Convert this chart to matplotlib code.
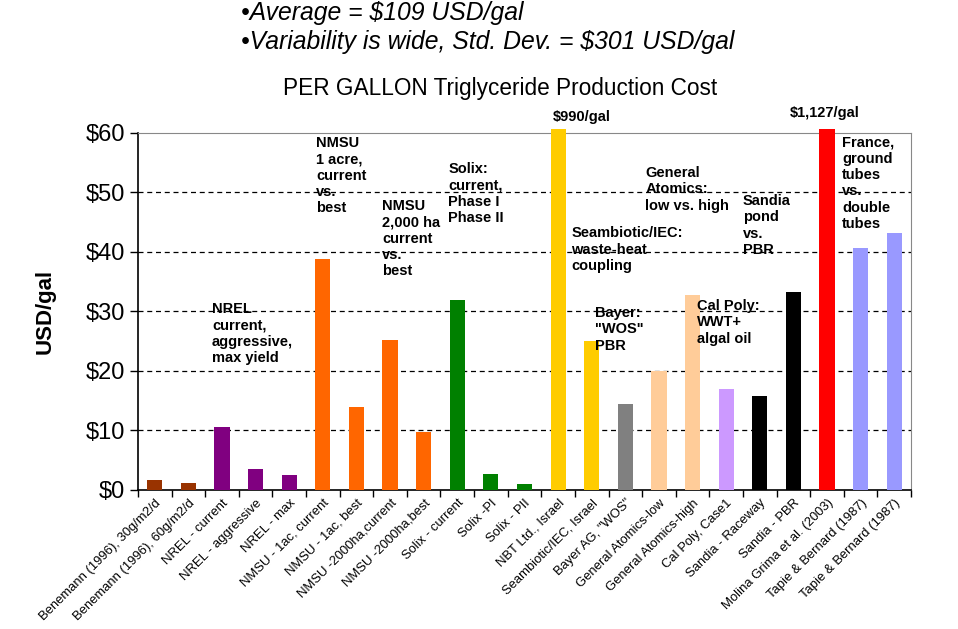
import numpy as np
import matplotlib
matplotlib.use('Agg')
import matplotlib.pyplot as plt

plt.rcParams['font.family'] = ['Liberation Sans', 'DejaVu Sans']

# categories and per gallon cost (USD/gal)
labels = ['Benemann (1996), 30g/m2/d', 'Benemann (1996), 60g/m2/d',
          'NREL - current', 'NREL - aggressive', 'NREL - max',
          'NMSU - 1ac, current', 'NMSU - 1ac, best',
          'NMSU -2000ha,current', 'NMSU -2000ha,best',
          'Solix - current', 'Solix -PI', 'Solix - PII',
          'NBT Ltd., Israel', 'Seambiotic/IEC, Israel', 'Bayer AG, "WOS"',
          'General Atomics-low', 'General Atomics-high', 'Cal Poly, Case1',
          'Sandia - Raceway', 'Sandia - PBR', 'Molina Grima et al. (2003)',
          'Tapie & Bernard (1987)', 'Tapie & Bernard (1987)']
costs = [1.7, 1.1, 10.5, 3.5, 2.5, 38.8, 14.0, 25.2, 9.75, 31.9, 2.7, 1.0,
         990, 25.0, 14.5, 20.0, 32.8, 16.9, 15.8, 33.3, 1127, 40.6, 43.1]
colors = ['#993300', '#993300', '#800080', '#800080', '#800080',
          '#FF6600', '#FF6600', '#FF6600', '#FF6600',
          '#008000', '#008000', '#008000',
          '#FFCC00', '#FFCC00', '#808080', '#FFCC99', '#FFCC99', '#CC99FF',
          '#000000', '#000000', '#FF0000', '#9999FF', '#9999FF']

# group notes: (text, x in category units, y in USD/gal)
notes = [
    ('NREL\ncurrent,\naggressive,\nmax yield', 1.70, 31.6),
    ('NMSU\n1 acre,\ncurrent\nvs.\nbest', 4.80, 59.5),
    ('NMSU\n2,000 ha\ncurrent\nvs.\nbest', 6.76, 48.9),
    ('Solix:\ncurrent,\nPhase I\nPhase II', 8.73, 55.1),
    ('$990/gal', 11.85, 63.8),
    ('Seambiotic/IEC:\nwaste-heat\ncoupling', 12.39, 44.3),
    ('General\nAtomics:\nlow vs. high', 14.59, 54.4),
    ('Bayer:\n"WOS"\nPBR', 13.10, 30.9),
    ('Cal Poly:\nWWT+\nalgal oil', 16.14, 32.1),
    ('Sandia\npond\nvs.\nPBR', 17.50, 49.7),
    ('$1,127/gal', 18.90, 64.5),
    ('France,\nground\ntubes\nvs.\ndouble\ntubes', 20.45, 59.6),
]

ymax = 60
x = np.arange(len(labels))
shown = np.minimum(costs, ymax + 0.7)  # off-scale bars poke just above the frame

fig = plt.figure(figsize=(9.58, 6.29), dpi=100)
ax = fig.add_axes([0.144, 0.221, 0.807, 0.568])

ax.bar(x, shown, width=0.45, color=colors, zorder=3, clip_on=False)

ax.set_xlim(-0.5, len(labels) - 0.5)
ax.set_ylim(0, ymax)
ax.set_yticks(range(0, 61, 10))
ax.set_yticklabels(['$%d' % v for v in range(0, 61, 10)], fontsize=17)
ax.tick_params(axis='y', direction='out', length=6, width=1)

ax.set_xticks(x)
ax.set_xticklabels(labels, rotation=45, ha='right', rotation_mode='anchor',
                   fontsize=9.4)
ax.tick_params(axis='x', which='major', length=0, pad=5)
ax.set_xticks(np.arange(-0.5, len(labels), 1), minor=True)
ax.tick_params(axis='x', which='minor', direction='out', length=5, width=1)

for v in range(10, 60, 10):
    ax.axhline(v, color='black', lw=0.9, ls=(0, (4, 3)), zorder=1)

ax.spines['top'].set_color('#888888')
ax.spines['right'].set_color('#888888')
ax.spines['left'].set_linewidth(1.2)
ax.spines['bottom'].set_linewidth(1.2)

ax.set_ylabel('USD/gal', fontsize=16, fontweight='bold', labelpad=21)

for txt, tx, ty in notes:
    ax.text(tx, ty, txt, fontsize=10.5, fontweight='bold', va='top', ha='left',
            linespacing=1.22, zorder=4, clip_on=False)

fig.text(0.522, 0.86, 'PER GALLON Triglyceride Production Cost',
         fontsize=16.3, ha='center', va='center')
fig.text(0.252, 0.998, u'\u2022Average = $109 USD/gal', fontsize=17.8,
         style='italic', ha='left', va='top')
fig.text(0.252, 0.953, u'\u2022Variability is wide, Std. Dev. = $301 USD/gal',
         fontsize=17.8, style='italic', ha='left', va='top')

fig.savefig('out.png', dpi=100)
